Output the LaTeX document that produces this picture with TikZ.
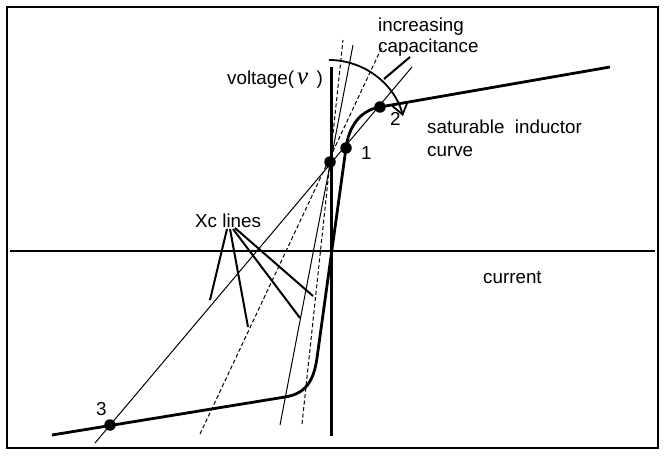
\documentclass[tikz,border=0pt]{standalone}
\usepackage{fontspec}
\setmainfont{Liberation Sans}
\newfontfamily\seriffont{Liberation Serif}
\usetikzlibrary{arrows.meta}
\begin{document}
\begin{tikzpicture}[x=1pt,y=-1pt,
  curvestyle/.style={line width=2.8pt, line join=round},
  axisstyle/.style={line width=2.6pt},
  thinline/.style={line width=1pt},
  dashline/.style={line width=1pt, dash pattern=on 4pt off 2.5pt},
  dotstyle/.style={circle, fill=black, inner sep=0pt, minimum size=11.5pt},
  lbl/.style={font=\fontsize{18.8}{20}\selectfont, inner sep=0pt},
  ptr/.style={line width=2pt}]
\useasboundingbox (0,0) rectangle (666,457);
\draw[line width=1.6pt] (7,7) rectangle (658,448);
% axes
\coordinate (hl) at (10,251);
\coordinate (hr) at (655,251);
\coordinate (vt) at (331.5,67);
\coordinate (vb) at (331.5,436);
\draw[axisstyle] (hl) -- (hr);
\draw[axisstyle] (vt) -- (vb);
% Xc lines through the operating point
\coordinate (t1a) at (95,443);  \coordinate (t1b) at (412,67);
\coordinate (d1a) at (200,434); \coordinate (d1b) at (382,47);
\coordinate (t2a) at (280,425); \coordinate (t2b) at (353,45);
\coordinate (d2a) at (302,424); \coordinate (d2b) at (343,40);
\draw[thinline] (t1a) -- (t1b);
\draw[dashline] (d1a) -- (d1b);
\draw[thinline] (t2a) -- (t2b);
\draw[dashline] (d2a) -- (d2b);
% saturable inductor curve
\draw[curvestyle] (52,435) -- (285,397) .. controls (305,393.8) and (313.6,382) .. (317,358)
  -- (346,148) .. controls (349,126) and (360,110.5) .. (380,107) -- (610,67);
% dots
\node[dotstyle] (p0) at (330,162) {};
\node[dotstyle] (p1) at (346,148) {};
\node[dotstyle] (p2) at (380,107) {};
\node[dotstyle] (p3) at (110,425) {};
% increasing capacitance arc
\draw[line width=1.8pt, -{Straight Barb[length=11pt,width=16pt]}] (329,60) .. controls (365,60) and (395,85) .. (403,116);
% labels
\node[lbl, anchor=base west] (linc) at (378,32) {increasing};
\node[lbl, anchor=base west] (lcap) at (378,53) {capacitance};
\coordinate (capend) at (384,79);
\draw[ptr] (410,57) -- (capend);
\node[lbl, anchor=base west] (lvolt) at (227,85) {voltage(\,{\seriffont\itshape\fontsize{25}{25}\selectfont v}\, )};
\node[lbl, anchor=base west] (lsat) at (427,134) {saturable\ \ inductor};
\node[lbl, anchor=base west] (lcurve) at (427,157) {curve};
\node[lbl, anchor=base west] (lcur) at (483,283) {current};
\node[lbl, anchor=base west] (lxc) at (195,227) {Xc lines};
\node[lbl, anchor=base west] (l1) at (361,160) {1};
\node[lbl, anchor=base west] (l2) at (390,126) {2};
\node[lbl, anchor=base west] (l3) at (96,415) {3};
% Xc pointers
\coordinate (x1) at (210,300);
\coordinate (x2) at (248,327);
\coordinate (x3) at (300,318);
\coordinate (x4) at (313,296);
\draw[ptr] (227,229) -- (x1);
\draw[ptr] (230,229) -- (x2);
\draw[ptr] (233,229) -- (x3);
\draw[ptr] (235,228) -- (x4);
\end{tikzpicture}
\end{document}
